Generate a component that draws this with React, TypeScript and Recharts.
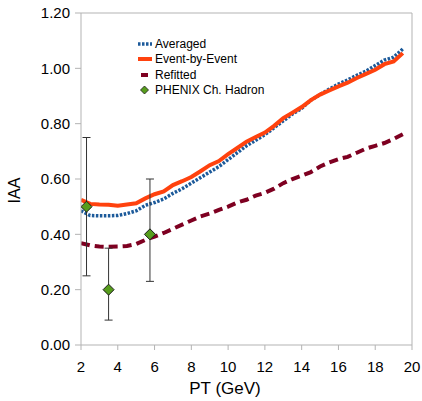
import { ComposedChart, Line, Scatter, XAxis, YAxis, ErrorBar, ReferenceLine, Legend, Label } from 'recharts';

const ptValues = [2, 2.5, 3, 3.5, 4, 4.5, 5, 5.5, 6, 6.5, 7, 7.5, 8, 8.5, 9, 9.5, 10, 10.5, 11, 11.5, 12, 12.5, 13, 13.5, 14, 14.5, 15, 15.5, 16, 16.5, 17, 17.5, 18, 18.5, 19, 19.5];
const averaged = [0.485, 0.468, 0.467, 0.467, 0.468, 0.475, 0.485, 0.505, 0.515, 0.528, 0.548, 0.565, 0.585, 0.605, 0.625, 0.645, 0.67, 0.695, 0.72, 0.74, 0.76, 0.785, 0.81, 0.835, 0.855, 0.885, 0.905, 0.925, 0.943, 0.958, 0.975, 0.99, 1.01, 1.03, 1.04, 1.07];
const eventByEvent = [0.525, 0.51, 0.508, 0.507, 0.503, 0.508, 0.512, 0.53, 0.545, 0.555, 0.578, 0.592, 0.607, 0.628, 0.65, 0.665, 0.69, 0.712, 0.735, 0.752, 0.768, 0.792, 0.82, 0.84, 0.86, 0.885, 0.905, 0.92, 0.935, 0.948, 0.965, 0.98, 0.995, 1.015, 1.025, 1.055];
const refitted = [0.368, 0.36, 0.356, 0.355, 0.356, 0.358, 0.365, 0.38, 0.392, 0.405, 0.42, 0.435, 0.45, 0.465, 0.475, 0.488, 0.5, 0.515, 0.525, 0.54, 0.55, 0.565, 0.585, 0.6, 0.612, 0.625, 0.645, 0.66, 0.672, 0.68, 0.695, 0.71, 0.72, 0.73, 0.745, 0.762];

const phenixPt = [2.3, 3.5, 5.75];
const phenixIaa = [0.5, 0.2, 0.4];
const phenixLow = [0.25, 0.09, 0.23];
const phenixHigh = [0.75, 0.35, 0.6];

const xTicks = [2, 4, 6, 8, 10, 12, 14, 16, 18, 20];
const yTicks = [0, 0.2, 0.4, 0.6, 0.8, 1.0, 1.2];

const FONT = '"Liberation Sans", Arial, sans-serif';
const AXIS_GRAY = '#b3b3b3';

const lineData = ptValues.map((pt, i) => ({
  pt,
  averaged: averaged[i],
  eventByEvent: eventByEvent[i],
  refitted: refitted[i],
}));

const phenixData = phenixPt.map((pt, i) => ({
  pt,
  iaa: phenixIaa[i],
  err: [phenixIaa[i] - phenixLow[i], phenixHigh[i] - phenixIaa[i]],
}));

const Diamond = (props: any) => {
  const { cx, cy } = props;
  const r = 5.5;
  return (
    <polygon
      points={`${cx},${cy - r} ${cx + r},${cy} ${cx},${cy + r} ${cx - r},${cy}`}
      fill="#579d1c"
      stroke="#1a1a1a"
      strokeWidth={1}
    />
  );
};

const legendItems = [
  { label: 'Averaged', kind: 'dotted' },
  { label: 'Event-by-Event', kind: 'solid' },
  { label: 'Refitted', kind: 'dash' },
  { label: 'PHENIX Ch. Hadron', kind: 'diamond' },
];

const LegendIcon = ({ kind }: { kind: string }) => (
  <svg width={16} height={16} style={{ display: 'block' }}>
    {kind === 'dotted' && <line x1={1} y1={8} x2={15} y2={8} stroke="#1c5a9a" strokeWidth={3.5} strokeDasharray="2.5 1.5" />}
    {kind === 'solid' && <line x1={1} y1={8} x2={15} y2={8} stroke="#ff420e" strokeWidth={4} />}
    {kind === 'dash' && <line x1={4} y1={8} x2={11} y2={8} stroke="#7e0021" strokeWidth={4} />}
    {kind === 'diamond' && <polygon points="7.5,4 11.5,8 7.5,12 3.5,8" fill="#579d1c" stroke="#1a1a1a" strokeWidth={0.8} />}
  </svg>
);

const CustomLegend = () => (
  <div style={{ fontFamily: FONT, fontSize: 12, color: '#000' }}>
    {legendItems.map((item) => (
      <div key={item.label} style={{ display: 'flex', alignItems: 'center', height: 15.5 }}>
        <LegendIcon kind={item.kind} />
        <span style={{ marginLeft: 2 }}>{item.label}</span>
      </div>
    ))}
  </div>
);

export default function App() {
  return (
    <div style={{ position: 'absolute', left: 0, top: 0, background: '#fff' }}>
      <ComposedChart
        width={422}
        height={401}
        data={lineData}
        margin={{ top: 13, right: 10, bottom: 0, left: 0 }}
        style={{ fontFamily: FONT }}
      >
        <XAxis
          dataKey="pt"
          type="number"
          domain={[2, 20]}
          ticks={xTicks}
          allowDataOverflow
          height={56}
          stroke={AXIS_GRAY}
          tickSize={5}
          tickMargin={11}
          tick={{ fill: '#000', fontSize: 15, fontFamily: FONT }}
        >
          <Label
            content={() => (
              <text x={225} y={394} textAnchor="middle" fontSize={17} fontFamily={FONT} fill="#000">
                PT (GeV)
              </text>
            )}
          />
        </XAxis>
        <YAxis
          type="number"
          domain={[0, 1.2]}
          ticks={yTicks}
          allowDataOverflow
          width={81}
          stroke={AXIS_GRAY}
          tickSize={6}
          tickMargin={5}
          tickFormatter={(v: number) => v.toFixed(2)}
          tick={{ fill: '#000', fontSize: 15, fontFamily: FONT }}
        >
          <Label
            content={() => (
              <text
                x={14}
                y={190.5}
                textAnchor="middle"
                dominantBaseline="central"
                transform="rotate(-90, 14, 190.5)"
                fontSize={16}
                fontFamily={FONT}
                fill="#000"
              >
                IAA
              </text>
            )}
          />
        </YAxis>
        <ReferenceLine y={1.2} stroke={AXIS_GRAY} strokeWidth={1} />
        <ReferenceLine x={20} stroke={AXIS_GRAY} strokeWidth={1} />
        <Legend
          layout="vertical"
          align="center"
          verticalAlign="middle"
          wrapperStyle={{ left: 137, top: 36, width: 'auto' }}
          content={<CustomLegend />}
        />
        <Line
          dataKey="averaged"
          type="linear"
          stroke="#1c5a9a"
          strokeWidth={3.5}
          strokeDasharray="2.5 1.5"
          dot={false}
          isAnimationActive={false}
        />
        <Line
          dataKey="eventByEvent"
          type="linear"
          stroke="#ff420e"
          strokeWidth={4}
          dot={false}
          isAnimationActive={false}
        />
        <Line
          dataKey="refitted"
          type="linear"
          stroke="#7e0021"
          strokeWidth={4}
          strokeDasharray="9 5"
          dot={false}
          isAnimationActive={false}
        />
        <Scatter data={phenixData} dataKey="iaa" shape={Diamond} isAnimationActive={false}>
          <ErrorBar dataKey="err" direction="y" width={4} stroke="#333" strokeWidth={1} />
        </Scatter>
      </ComposedChart>
    </div>
  );
}
